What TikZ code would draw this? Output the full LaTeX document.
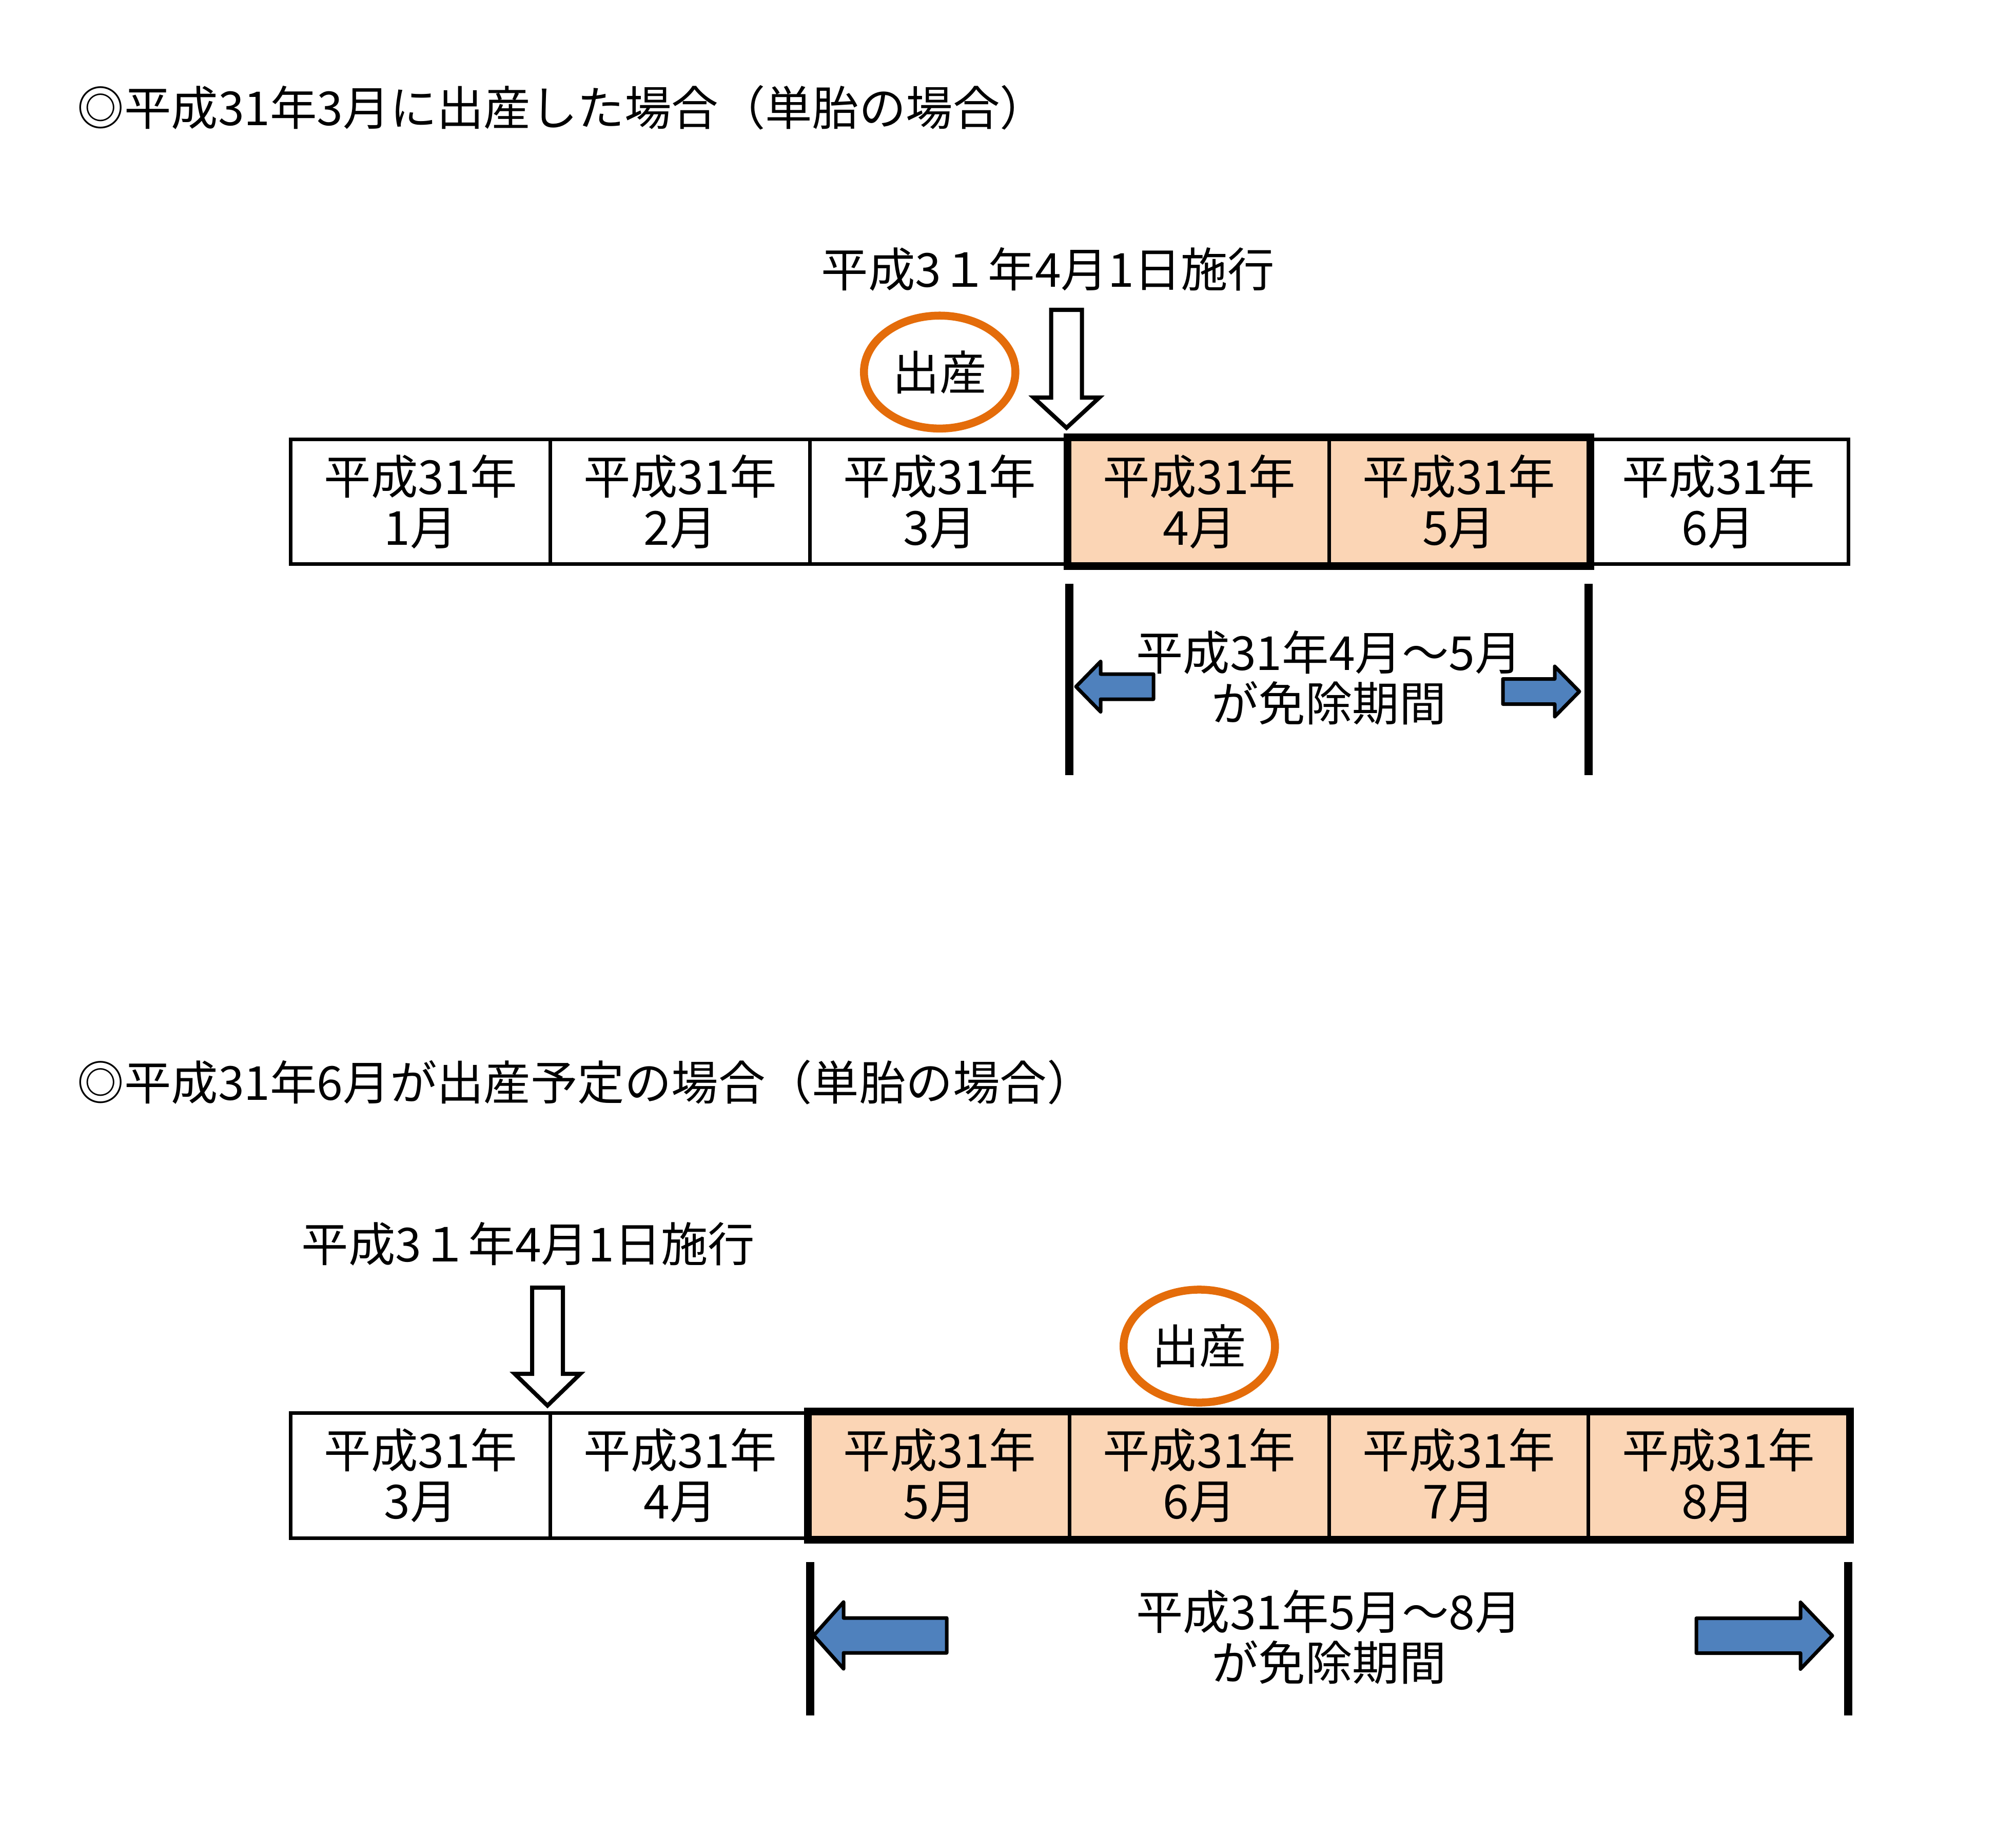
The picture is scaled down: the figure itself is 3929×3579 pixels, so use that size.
\documentclass[tikz,border=0pt]{standalone}
\usepackage{fontspec}
\setmainfont{Noto Sans CJK JP}
\usetikzlibrary{shapes.geometric}
\definecolor{peach}{HTML}{FBD5B5}
\definecolor{ringorange}{HTML}{E46C0A}
\definecolor{arrowblue}{HTML}{4F81BD}
\begin{document}
\begin{tikzpicture}[x=0.01cm,y=-0.01cm,
  every node/.style={inner sep=0pt, font=\fontsize{26pt}{28.2pt}\selectfont},
  cell/.style={draw=black, line width=0.07cm, minimum width=5.059cm, minimum height=2.43cm, align=center},
  hicell/.style={cell, fill=peach},
  thickframe/.style={draw=black, line width=0.15cm},
  ring/.style={ellipse, draw=ringorange, line width=0.155cm, minimum width=2.95cm, minimum height=2.2cm},
  whitearrow/.style={draw=black, fill=white, line width=0.08cm, line join=miter},
  bluearrow/.style={draw=black, fill=arrowblue, line width=0.07cm, line join=round},
  periodbar/.style={draw=black, line width=0.16cm},
  titletext/.style={anchor=west},
  periodtext/.style={align=center}
]
\useasboundingbox (0,0) rectangle (3929,3579);

% ---------- titles ----------
\node[titletext] (title1) at (150,210) {◎平成31年3月に出産した場合（単胎の場合）};
\node[titletext] (title2) at (150,2110) {◎平成31年6月が出産予定の場合（単胎の場合）};

% ---------- upper case ----------
\node[titletext] (law1) at (1600,525) {平成3１年4月1日施行};
\node[cell]   (a1) at (819.65,978)  {平成31年\\1月};
\node[cell]   (a2) at (1325.55,978) {平成31年\\2月};
\node[cell]   (a3) at (1831.45,978) {平成31年\\3月};
\node[hicell] (a4) at (2337.35,978) {平成31年\\4月};
\node[hicell] (a5) at (2843.2,978)  {平成31年\\5月};
\node[cell]   (a6) at (3349.05,978) {平成31年\\6月};
\draw[thickframe] (a4.north west) rectangle (a5.south east);

\node[ring] (birth1) at (1831.3,725.3) {出産};
\draw[whitearrow] (2048.5,604) -- (2108.5,604) -- (2108.5,775) -- (2142.5,775)
   -- (2078.5,834) -- (2014.5,775) -- (2048.5,775) -- cycle;

\draw[periodbar] (2084.4,1138) -- (2084.4,1511);
\draw[periodbar] (3096.1,1138) -- (3096.1,1511);
\draw[bluearrow] (2097,1338.5) -- (2145,1289.5) -- (2145,1314) -- (2248,1314)
   -- (2248,1363) -- (2145,1363) -- (2145,1387.5) -- cycle;
\draw[bluearrow] (3078,1348) -- (3030,1299) -- (3030,1323.5) -- (2929,1323.5)
   -- (2929,1372.5) -- (3030,1372.5) -- (3030,1397) -- cycle;
\node[periodtext] (span1) at (2590,1321) {平成31年4月～5月\\が免除期間};

% ---------- lower case ----------
\node[titletext] (law2) at (587,2425) {平成3１年4月1日施行};
\node[cell]   (b1) at (819.65,2876.5)  {平成31年\\3月};
\node[cell]   (b2) at (1325.55,2876.5) {平成31年\\4月};
\node[hicell] (b3) at (1831.45,2876.5) {平成31年\\5月};
\node[hicell] (b4) at (2337.35,2876.5) {平成31年\\6月};
\node[hicell] (b5) at (2843.2,2876.5)  {平成31年\\7月};
\node[hicell] (b6) at (3349.05,2876.5) {平成31年\\8月};
\draw[thickframe] (b3.north west) rectangle (b6.south east);

\node[ring] (birth2) at (2337.3,2624) {出産};
\draw[whitearrow] (1037,2510) -- (1097,2510) -- (1097,2678) -- (1131,2678)
   -- (1067,2740) -- (1003,2678) -- (1037,2678) -- cycle;

\draw[periodbar] (1578.5,3045) -- (1578.5,3344);
\draw[periodbar] (3602,3045) -- (3602,3344);
\draw[bluearrow] (1586,3188) -- (1644,3123) -- (1644,3154) -- (1845,3154)
   -- (1845,3222) -- (1644,3222) -- (1644,3253) -- cycle;
\draw[bluearrow] (3571,3188.5) -- (3509,3123.5) -- (3509,3154.5) -- (3306,3154.5)
   -- (3306,3222.5) -- (3509,3222.5) -- (3509,3253.5) -- cycle;
\node[periodtext] (span2) at (2590,3191) {平成31年5月～8月\\が免除期間};
\end{tikzpicture}
\end{document}
